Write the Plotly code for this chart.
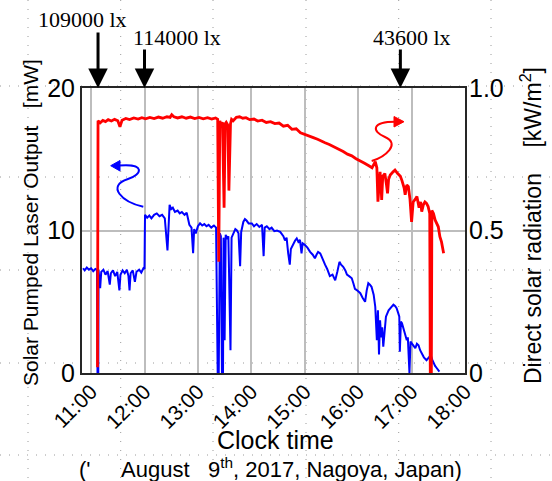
import plotly.graph_objects as go

# ---------------- data ----------------
hours = [11, 12, 13, 14, 15, 16, 17, 18]
hour_labels = ["11:00", "12:00", "13:00", "14:00", "15:00", "16:00", "17:00", "18:00"]

# Direct solar radiation [kW/m2] (red, right axis)
red_t = [11.12, 11.13, 11.17, 11.22, 11.27, 11.32, 11.38, 11.44,
         11.50, 11.54, 11.58, 11.65, 11.72, 11.80, 11.88, 11.95,
         12.02, 12.10, 12.18, 12.26, 12.34, 12.42, 12.48, 12.51,
         12.55, 12.62, 12.70, 12.78, 12.86, 12.94, 13.02, 13.10,
         13.18, 13.26, 13.33, 13.37, 13.39, 13.41, 13.43, 13.46,
         13.49, 13.51, 13.53, 13.56, 13.58, 13.61, 13.63, 13.66,
         13.72, 13.78, 13.84, 13.90, 13.97, 14.05, 14.12, 14.20,
         14.28, 14.36, 14.44, 14.52, 14.60, 14.68, 14.76, 14.84,
         14.92, 15.00, 15.08, 15.16, 15.24, 15.30, 15.38, 15.46,
         15.54, 15.60, 15.66, 15.72, 15.80, 15.88, 15.96, 16.04,
         16.12, 16.20, 16.26, 16.32, 16.35, 16.37, 16.39, 16.41,
         16.43, 16.44, 16.46, 16.50, 16.53, 16.55, 16.57, 16.60,
         16.65, 16.69, 16.74, 16.79, 16.82, 16.86, 16.88, 16.91,
         16.94, 16.97, 17.00, 17.03, 17.07, 17.10, 17.14, 17.17,
         17.19, 17.22, 17.25, 17.28, 17.31, 17.34, 17.35, 17.37,
         17.38, 17.41, 17.44, 17.47, 17.50, 17.53, 17.56, 17.60]
red_v = [0.02, 0.885, 0.878, 0.886, 0.882, 0.889, 0.884, 0.890,
         0.885, 0.864, 0.887, 0.893, 0.889, 0.895, 0.891, 0.896,
         0.892, 0.897, 0.893, 0.898, 0.894, 0.899, 0.897, 0.906,
         0.899, 0.895, 0.899, 0.894, 0.898, 0.893, 0.897, 0.892,
         0.896, 0.891, 0.895, 0.890, 0.39, 0.885, 0.87, 0.88,
         0.58, 0.875, 0.88, 0.87, 0.64, 0.875, 0.89, 0.885,
         0.897, 0.899, 0.894, 0.896, 0.889, 0.891, 0.884, 0.887,
         0.879, 0.882, 0.875, 0.877, 0.866, 0.869, 0.855, 0.857,
         0.843, 0.838, 0.832, 0.826, 0.820, 0.816, 0.808, 0.802,
         0.795, 0.788, 0.782, 0.777, 0.768, 0.762, 0.752, 0.745,
         0.736, 0.727, 0.720, 0.742, 0.720, 0.601, 0.680, 0.706,
         0.650, 0.607, 0.690, 0.700, 0.660, 0.630, 0.680, 0.695,
         0.705, 0.712, 0.700, 0.690, 0.675, 0.650, 0.625, 0.660,
         0.654, 0.610, 0.530, 0.600, 0.610, 0.619, 0.580, 0.600,
         0.566, 0.590, 0.600, 0.595, 0.584, 0.560, 0.0, 0.0,
         0.570, 0.560, 0.537, 0.525, 0.513, 0.478, 0.460, 0.420]

# Solar pumped laser output [mW] (blue, left axis)
blue_t = [10.85, 10.88, 10.92, 10.96, 11.00, 11.04, 11.08, 11.11,
          11.12, 11.135, 11.14, 11.17, 11.19, 11.23, 11.27, 11.31,
          11.35, 11.37, 11.41, 11.45, 11.49, 11.53, 11.55, 11.59,
          11.63, 11.67, 11.70, 11.72, 11.74, 11.78, 11.82, 11.85,
          11.90, 11.94, 11.98, 12.00, 12.005, 12.01, 12.05, 12.09,
          12.13, 12.18, 12.23, 12.28, 12.33, 12.38, 12.43, 12.45,
          12.47, 12.50, 12.53, 12.57, 12.62, 12.66, 12.70, 12.75,
          12.79, 12.84, 12.88, 12.91, 12.93, 12.96, 13.00, 13.04,
          13.08, 13.12, 13.16, 13.20, 13.25, 13.30, 13.34, 13.37,
          13.39, 13.41, 13.43, 13.45, 13.47, 13.48, 13.50, 13.52,
          13.55, 13.57, 13.61, 13.63, 13.66, 13.70, 13.73, 13.76,
          13.79, 13.81, 13.85, 13.88, 13.91, 13.95, 14.01, 14.05,
          14.10, 14.15, 14.20, 14.23, 14.25, 14.29, 14.34, 14.38,
          14.43, 14.48, 14.54, 14.60, 14.63, 14.66, 14.69, 14.72,
          14.74, 14.79, 14.82, 14.85, 14.88, 14.91, 14.94, 14.96,
          15.00, 15.05, 15.10, 15.15, 15.19, 15.22, 15.25, 15.29,
          15.33, 15.38, 15.42, 15.47, 15.52, 15.57, 15.61, 15.65,
          15.68, 15.72, 15.76, 15.79, 15.83, 15.88, 15.91, 15.94,
          15.98, 16.04, 16.08, 16.13, 16.16, 16.19, 16.22, 16.25,
          16.29, 16.32, 16.35, 16.37, 16.39, 16.41, 16.43, 16.45,
          16.47, 16.50, 16.52, 16.57, 16.61, 16.66, 16.69, 16.72,
          16.75, 16.77, 16.78, 16.80, 16.82, 16.85, 16.88, 16.91,
          16.93, 16.96, 16.98, 17.00, 17.04, 17.07, 17.10, 17.13,
          17.16, 17.19, 17.23, 17.28, 17.32, 17.36, 17.39, 17.41,
          17.44, 17.47, 17.50, 17.52]
blue_v = [7.35, 7.2, 7.4, 7.25, 7.35, 7.15, 7.3, 7.25,
          0.0, 0.0, 7.2, 5.96, 7.1, 7.25, 6.9, 7.15,
          6.2, 7.0, 7.2, 6.8, 7.1, 5.8, 6.9, 7.2,
          7.0, 7.25, 6.8, 5.8, 7.0, 7.2, 6.4, 7.1,
          7.25, 7.05, 7.35, 7.3, 9.3, 11.1, 10.9, 11.05,
          10.85, 11.1, 11.2, 11.0, 11.1, 10.85, 8.6, 10.9,
          11.8, 11.5, 11.6, 11.3, 11.4, 11.2, 11.3, 11.1,
          11.25, 10.4, 10.2, 8.4, 10.1, 9.8, 10.3, 10.5,
          10.35, 10.45, 10.3, 10.4, 10.2, 10.35, 10.2, 0.0,
          0.0, 9.8, 9.6, 0.0, 0.0, 9.5, 2.3, 9.7,
          9.4, 9.6, 1.6, 9.5, 9.8, 10.1, 10.0, 9.8,
          7.5, 9.9, 10.6, 10.8, 10.7, 10.5, 10.5, 10.3,
          10.45, 10.25, 10.4, 8.2, 10.2, 10.3, 10.1, 10.2,
          9.95, 10.0, 9.9, 9.6, 9.3, 9.5, 8.4, 7.6,
          8.7, 9.1, 9.3, 9.45, 9.2, 9.35, 8.4, 9.1,
          9.0, 8.8, 8.5, 8.3, 8.05, 8.3, 8.5, 8.4,
          8.0, 7.6, 7.3, 6.8, 6.9, 6.5, 7.1, 7.8,
          7.6, 7.45, 7.2, 6.9, 6.8, 6.65, 6.3, 5.9,
          5.8, 5.6, 5.3, 5.0, 5.8, 6.3, 6.2, 6.05,
          5.5, 4.65, 2.3, 4.4, 1.3, 3.7, 2.5, 3.2,
          1.85, 3.5, 3.95, 4.4, 4.6, 4.8, 4.7, 4.55,
          4.2, 3.95, 1.5, 3.6, 3.5, 3.0, 2.7, 2.3,
          2.5, 0.0, 2.2, 2.1, 1.9, 1.75, 2.05, 1.95,
          1.6, 1.4, 1.1, 0.9, 1.1, 1.25, 0.9, 0.7,
          0.5, 0.35, 0.2, 0.1]

# illuminance markers
lux_labels = ["109000 lx", "114000 lx", "43600 lx"]
lux_times = [11.13, 12.0, 16.79]

# ---------------- layout geometry ----------------
W, H = 552, 481
ML, MR, MT, MB = 82, 87, 88, 108
PW, PH = W - ML - MR, H - MT - MB
XR = [10.83, 18.0]
YR = [0, 20]


def px_to_data(px, py):
    t = XR[0] + (px - ML) / PW * (XR[1] - XR[0])
    v = (MT + PH - py) / PH * (YR[1] - YR[0])
    return t, v


def px_to_paper(px, py):
    return (px - ML) / PW, (MT + PH - py) / PH


def path_from_px(cmds, close=False):
    out = []
    for c, pts in cmds:
        s = c + " " + " ".join("%.4f,%.4f" % px_to_data(*p) for p in pts)
        out.append(s)
    if close:
        out.append("Z")
    return " ".join(out)


fig = go.Figure()

fig.add_trace(go.Scatter(x=blue_t, y=blue_v, mode="lines",
                         line=dict(color="#0000ff", width=2), yaxis="y",
                         showlegend=False))
fig.add_trace(go.Scatter(x=red_t, y=red_v, mode="lines",
                         line=dict(color="#ff0000", width=2.8), yaxis="y2",
                         showlegend=False))

shapes = []
# faint dotted background grid (slide grid)
for vx in [28, 120.7, 213, 306, 398.7, 491]:
    x0, _ = px_to_paper(vx, 0)
    shapes.append(dict(type="line", xref="paper", yref="paper",
                       x0=x0, x1=x0, y0=px_to_paper(0, 0)[1], y1=px_to_paper(0, H)[1],
                       line=dict(color="#9a9a9a", width=1, dash="1px,8px"), layer="below"))
for hy in [86, 177, 270, 363, 455]:
    _, y0 = px_to_paper(0, hy)
    shapes.append(dict(type="line", xref="paper", yref="paper",
                       x0=px_to_paper(0, 0)[0], x1=px_to_paper(W, 0)[0], y0=y0, y1=y0,
                       line=dict(color="#9a9a9a", width=1, dash="1px,8px"), layer="below"))

# blue squiggle arrow (points to left axis)
blue_path = path_from_px([
    ("M", [(143.3, 206.7)]),
    ("C", [(122, 202), (106, 186), (128, 179)]),
    ("C", [(142, 175), (146, 163), (119, 165.5)]),
])
shapes.append(dict(type="path", xref="x", yref="y", path=blue_path,
                   line=dict(color="#0000ff", width=2)))
shapes.append(dict(type="path", xref="x", yref="y",
                   path=path_from_px([("M", [(110.7, 165.7)]), ("L", [(120, 160.5)]),
                                      ("L", [(120, 171)])], close=True),
                   fillcolor="#0000ff", line=dict(color="#0000ff", width=1)))

# red squiggle arrow (points to right axis)
red_path = path_from_px([
    ("M", [(371.7, 161)]),
    ("C", [(385, 157), (401, 144), (385, 137)]),
    ("C", [(371, 131), (372, 121.7), (395, 121.7)]),
])
shapes.append(dict(type="path", xref="x", yref="y", path=red_path,
                   line=dict(color="#ff0000", width=2)))
shapes.append(dict(type="path", xref="x", yref="y",
                   path=path_from_px([("M", [(404, 121.7)]), ("L", [(394, 116.5)]),
                                      ("L", [(394, 127)])], close=True),
                   fillcolor="#ff0000", line=dict(color="#ff0000", width=1)))

annotations = []
# lux arrows
arrow_len = [57, 40, 40]
for t, L in zip(lux_times, arrow_len):
    annotations.append(dict(x=t, y=YR[1], xref="x", yref="y", text="", showarrow=True,
                            ax=0, ay=-L, arrowhead=2, arrowsize=1.3, arrowwidth=3,
                            arrowcolor="black"))
lux_pos = [(82, 20), (177, 38), (412, 37)]
for lab, (px, py) in zip(lux_labels, lux_pos):
    xp, yp = px_to_paper(px, py)
    annotations.append(dict(x=xp, y=yp, xref="paper", yref="paper", text=lab,
                            showarrow=False, xanchor="center", yanchor="middle",
                            font=dict(family="Liberation Serif", size=22, color="black")))

xp, yp = px_to_paper(30, 223)
annotations.append(dict(x=xp, y=yp, xref="paper", yref="paper",
                        text="Solar Pumped Laser Output&nbsp;&nbsp;&nbsp;[mW]", textangle=-90,
                        showarrow=False, xanchor="center", yanchor="middle",
                        font=dict(family="Liberation Sans", size=21, color="black")))
xp, yp = px_to_paper(531, 226)
annotations.append(dict(x=xp, y=yp, xref="paper", yref="paper",
                        text="Direct solar radiation&nbsp;&nbsp;&nbsp;&nbsp;[kW/m<sup>2</sup>]", textangle=-90,
                        showarrow=False, xanchor="center", yanchor="middle",
                        font=dict(family="Liberation Sans", size=23, color="black")))
xp, yp = px_to_paper(275, 440)
annotations.append(dict(x=xp, y=yp, xref="paper", yref="paper", text="Clock time",
                        showarrow=False, xanchor="center", yanchor="middle",
                        font=dict(family="Liberation Sans", size=25, color="black")))
xp, yp = px_to_paper(77, 468)
annotations.append(dict(x=xp, y=yp, xref="paper", yref="paper",
                        text="('&nbsp;&nbsp;&nbsp;&nbsp;&nbsp;August&nbsp;&nbsp;&nbsp;9<sup>th</sup>, 2017, Nagoya, Japan)",
                        showarrow=False, xanchor="left", yanchor="middle",
                        font=dict(family="Liberation Sans", size=22, color="black")))

axis_common = dict(showline=True, linecolor="#262626", linewidth=2, zeroline=False,
                   ticks="", tickfont=dict(family="Liberation Sans", size=25, color="black"))

fig.update_layout(
    width=W, height=H, autosize=False,
    margin=dict(l=ML, r=MR, t=MT, b=MB, pad=0),
    paper_bgcolor="white", plot_bgcolor="white",
    showlegend=False,
    xaxis=dict(range=XR, tickvals=hours, ticktext=hour_labels, tickangle=-45,
               showgrid=True, gridcolor="#bdbdbd", gridwidth=2, mirror=True,
               showline=True, linecolor="#262626", linewidth=2, zeroline=False, ticks="",
               ticklabelstandoff=-4,
               tickfont=dict(family="Liberation Sans", size=21, color="black")),
    yaxis=dict(range=YR, tickvals=[0, 10, 20], showgrid=True, gridcolor="#bdbdbd",
               gridwidth=2, **axis_common),
    yaxis2=dict(range=[0, 1.0], tickvals=[0, 0.5, 1.0], ticktext=["0", "0.5", "1.0"],
                overlaying="y", side="right", showgrid=False, ticklabelstandoff=-3,
                **axis_common),
    shapes=shapes,
    annotations=annotations,
)

fig.write_html("out.html", config={"displayModeBar": False},
               post_script="document.body.style.margin='0';")
